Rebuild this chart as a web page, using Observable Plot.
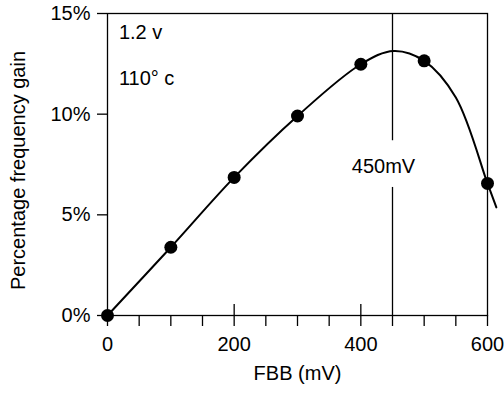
<!DOCTYPE html>
<html><head><meta charset="utf-8">
<script src="https://cdn.jsdelivr.net/npm/d3@7"></script>
<script src="https://cdn.jsdelivr.net/npm/@observablehq/plot@0.6"></script>
<style>body{margin:0;background:#fff}</style>
</head><body><div id="chart"></div>
<script>
// Measured points
const fbb = [0, 100, 200, 300, 400, 500, 600];
const gain = [0, 3.39, 6.86, 9.91, 12.48, 12.65, 6.56];
// Fitted curve
const curveFbb = [0, 100, 200, 300, 400, 452, 500, 550, 600, 614];
const curveGain = [0, 3.39, 6.86, 9.91, 12.48, 13.14, 12.65, 10.83, 6.56, 5.37];
// Axes
const yTicks = [0, 5, 10, 15];
const xLabelTicks = [0, 200, 400, 600];
const xMinorTicks = [0, 50, 100, 150, 200, 250, 300, 350, 400, 450, 500, 550, 600];
const xCrossTicks = [200, 400];
// Annotations
const markerFbb = 450;
const markerLabel = "450mV";
const markerGapLow = 6.36;
const markerGapHigh = 8.68;
const markerLabelY = 7.4;
const notes = ["1.2 v", "110° c"];
const notesY = [14.04, 11.76];
const notesX = 18;
const xTitle = "FBB (mV)";
const yTitle = "Percentage frequency gain";

const points = fbb.map((x, i) => ({x, y: gain[i]}));
const curve = curveFbb.map((x, i) => ({x, y: curveGain[i]}));
const noteData = notes.map((t, i) => ({t, x: notesX, y: notesY[i]}));
const markerSegs = [{y1: 15, y2: markerGapHigh}, {y1: markerGapLow, y2: 0}];
const FONT = '"Liberation Sans", Arial, Helvetica, sans-serif';
const FS = 20;

const chart = Plot.plot({
  width: 504, height: 393,
  marginLeft: 107, marginRight: 17, marginTop: 13, marginBottom: 78,
  style: {fontFamily: FONT, fontSize: FS + "px", color: "black", background: "white", overflow: "visible"},
  x: {domain: [0, 600]},
  y: {domain: [0, 15]},
  marks: [
    Plot.frame({stroke: "black", strokeWidth: 1.3}),
    Plot.axisY({ticks: yTicks, tickSize: 10, tickPadding: 7, tickFormat: d => d + "%", label: null, fontSize: FS, strokeWidth: 1.3}),
    Plot.axisX({ticks: xMinorTicks, tickSize: 11, tickPadding: 10, tickFormat: d => xLabelTicks.includes(d) ? String(d) : "", label: null, fontSize: FS, strokeWidth: 1.3}),
    Plot.axisX({ticks: xCrossTicks, tickSize: 11, dy: -11, text: null, label: null, strokeWidth: 1.3}),
    Plot.ruleX(markerSegs, {x: () => markerFbb, y1: "y1", y2: "y2", stroke: "black", strokeWidth: 1.3}),
    Plot.text([markerLabel], {x: () => markerFbb, y: () => markerLabelY, text: d => d, dx: -9, fontSize: FS}),
    Plot.line(curve, {x: "x", y: "y", curve: "catmull-rom", stroke: "black", strokeWidth: 2}),
    Plot.dot(points, {x: "x", y: "y", r: 6.5, fill: "black"}),
    Plot.text(noteData, {x: "x", y: "y", text: "t", textAnchor: "start", fontSize: FS}),
    Plot.text([yTitle], {frameAnchor: "left", text: d => d, textAnchor: "middle", rotate: -90, dx: -89, dy: 6, fontSize: FS}),
    Plot.text([xTitle], {frameAnchor: "bottom", text: d => d, textAnchor: "middle", dy: 64, fontSize: FS})
  ]
});
document.getElementById("chart").appendChild(chart);
</script>
</body></html>
